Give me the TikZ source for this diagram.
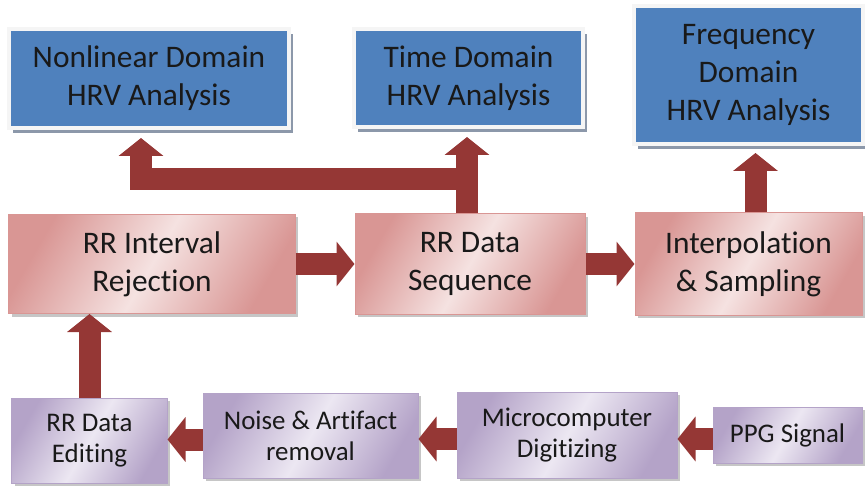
\documentclass[tikz,border=0pt]{standalone}
\usepackage{fontspec}
\setmainfont{Carlito}[Ligatures=NoCommon]
\usetikzlibrary{arrows.meta, shadows, calc}
\definecolor{hrvblue}{RGB}{79,129,189}
\definecolor{blueshadow}{RGB}{140,152,170}
\definecolor{pinkdark}{RGB}{217,150,148}
\definecolor{pinklight}{RGB}{245,226,225}
\definecolor{lilacdark}{RGB}{180,163,200}
\definecolor{lilaclight}{RGB}{236,231,242}
\definecolor{arrowred}{RGB}{149,55,53}
\definecolor{textdark}{RGB}{25,25,25}

\begin{document}
\begin{tikzpicture}[line join=miter,x=1bp,y=-1bp,
    bluebox/.style={fill=hrvblue, draw=gray!8, line width=4bp, inner sep=0pt, align=center,
        text=textdark, font=\fontsize{31.5}{38}\selectfont,
        drop shadow={shadow xshift=4bp, shadow yshift=-5bp, fill=blueshadow, opacity=1}},
    pinkbox/.style={left color=pinkdark, right color=pinkdark, middle color=pinklight, shading angle=60,
        draw=pinkdark, line width=1bp, inner sep=0pt, align=center,
        text=textdark, font=\fontsize{31.5}{38}\selectfont,
        drop shadow={shadow xshift=3bp, shadow yshift=-3bp, opacity=.45}},
    lilacbox/.style={left color=lilacdark, right color=lilacdark, middle color=lilaclight, shading angle=60,
        draw=lilacdark, line width=1bp, inner sep=0pt, align=center,
        text=textdark, font=\fontsize{27}{31}\selectfont,
        drop shadow={shadow xshift=3bp, shadow yshift=-3bp, opacity=.45}},
    blockarrow/.style={draw=arrowred, line width=22bp, -{Triangle[width=44bp,length=18bp]}}]
    \useasboundingbox (0,0) rectangle (865,487);
    % analysis boxes
    \node[bluebox, minimum width=280bp, minimum height=99bp] (nonl) at (149,78.5) {Nonlinear Domain\\HRV Analysis};
    \node[bluebox, minimum width=229bp, minimum height=98bp] (time) at (468.5,78) {Time Domain\\HRV Analysis};
    \node[bluebox, minimum width=229bp, minimum height=138bp] (freq) at (748.5,75) {Frequency\\Domain\\HRV Analysis};
    % RR processing
    \node[pinkbox, minimum width=286bp, minimum height=99bp] (rej) at (152,264) {RR Interval\\Rejection};
    \node[pinkbox, minimum width=230bp, minimum height=100bp] (seq) at (470,264) {RR Data\\Sequence};
    \node[pinkbox, minimum width=227bp, minimum height=102bp] (interp) at (748.5,264) {Interpolation\\\& Sampling};
    % signal acquisition
    \node[lilacbox, minimum width=155bp, minimum height=85bp] (edit) at (89.5,440.5) {RR Data\\Editing};
    \node[lilacbox, minimum width=215bp, minimum height=85bp] (noise) at (310.5,435.5) {Noise \& Artifact\\removal};
    \node[lilacbox, minimum width=220bp, minimum height=86bp] (micro) at (567,435) {Microcomputer\\Digitizing};
    \node[lilacbox, minimum width=149bp, minimum height=56bp] (ppg) at (787.5,435) {PPG Signal};
    % arrows
    \draw[blockarrow] ([yshift=-4bp]ppg.west) -- ([yshift=-4bp]ppg.west -| micro.east);
    \draw[blockarrow] ([yshift=-4bp]micro.west) -- ([yshift=-4bp]micro.west -| noise.east);
    \draw[blockarrow] ([yshift=-4bp]noise.west) -- ([yshift=-4bp]noise.west -| edit.east);
    \draw[blockarrow] (edit.north) -- (edit.north |- rej.south);
    \draw[blockarrow] (rej) -- (seq);
    \draw[blockarrow] (seq) -- (interp);
    \draw[blockarrow, shorten >=7bp] ([xshift=7bp]interp.north) -- ([xshift=7bp]interp.north |- freq.south);
    \draw[blockarrow, shorten >=8bp] ([xshift=-3bp]seq.north) -- ([xshift=-3bp]seq.north |- time.south);
    \coordinate (split) at ($(seq.north)+(-3,-34)$);
    \draw[blockarrow, shorten >=8bp] (split) -| ([xshift=-8bp]nonl.south);
\end{tikzpicture}
\end{document}
